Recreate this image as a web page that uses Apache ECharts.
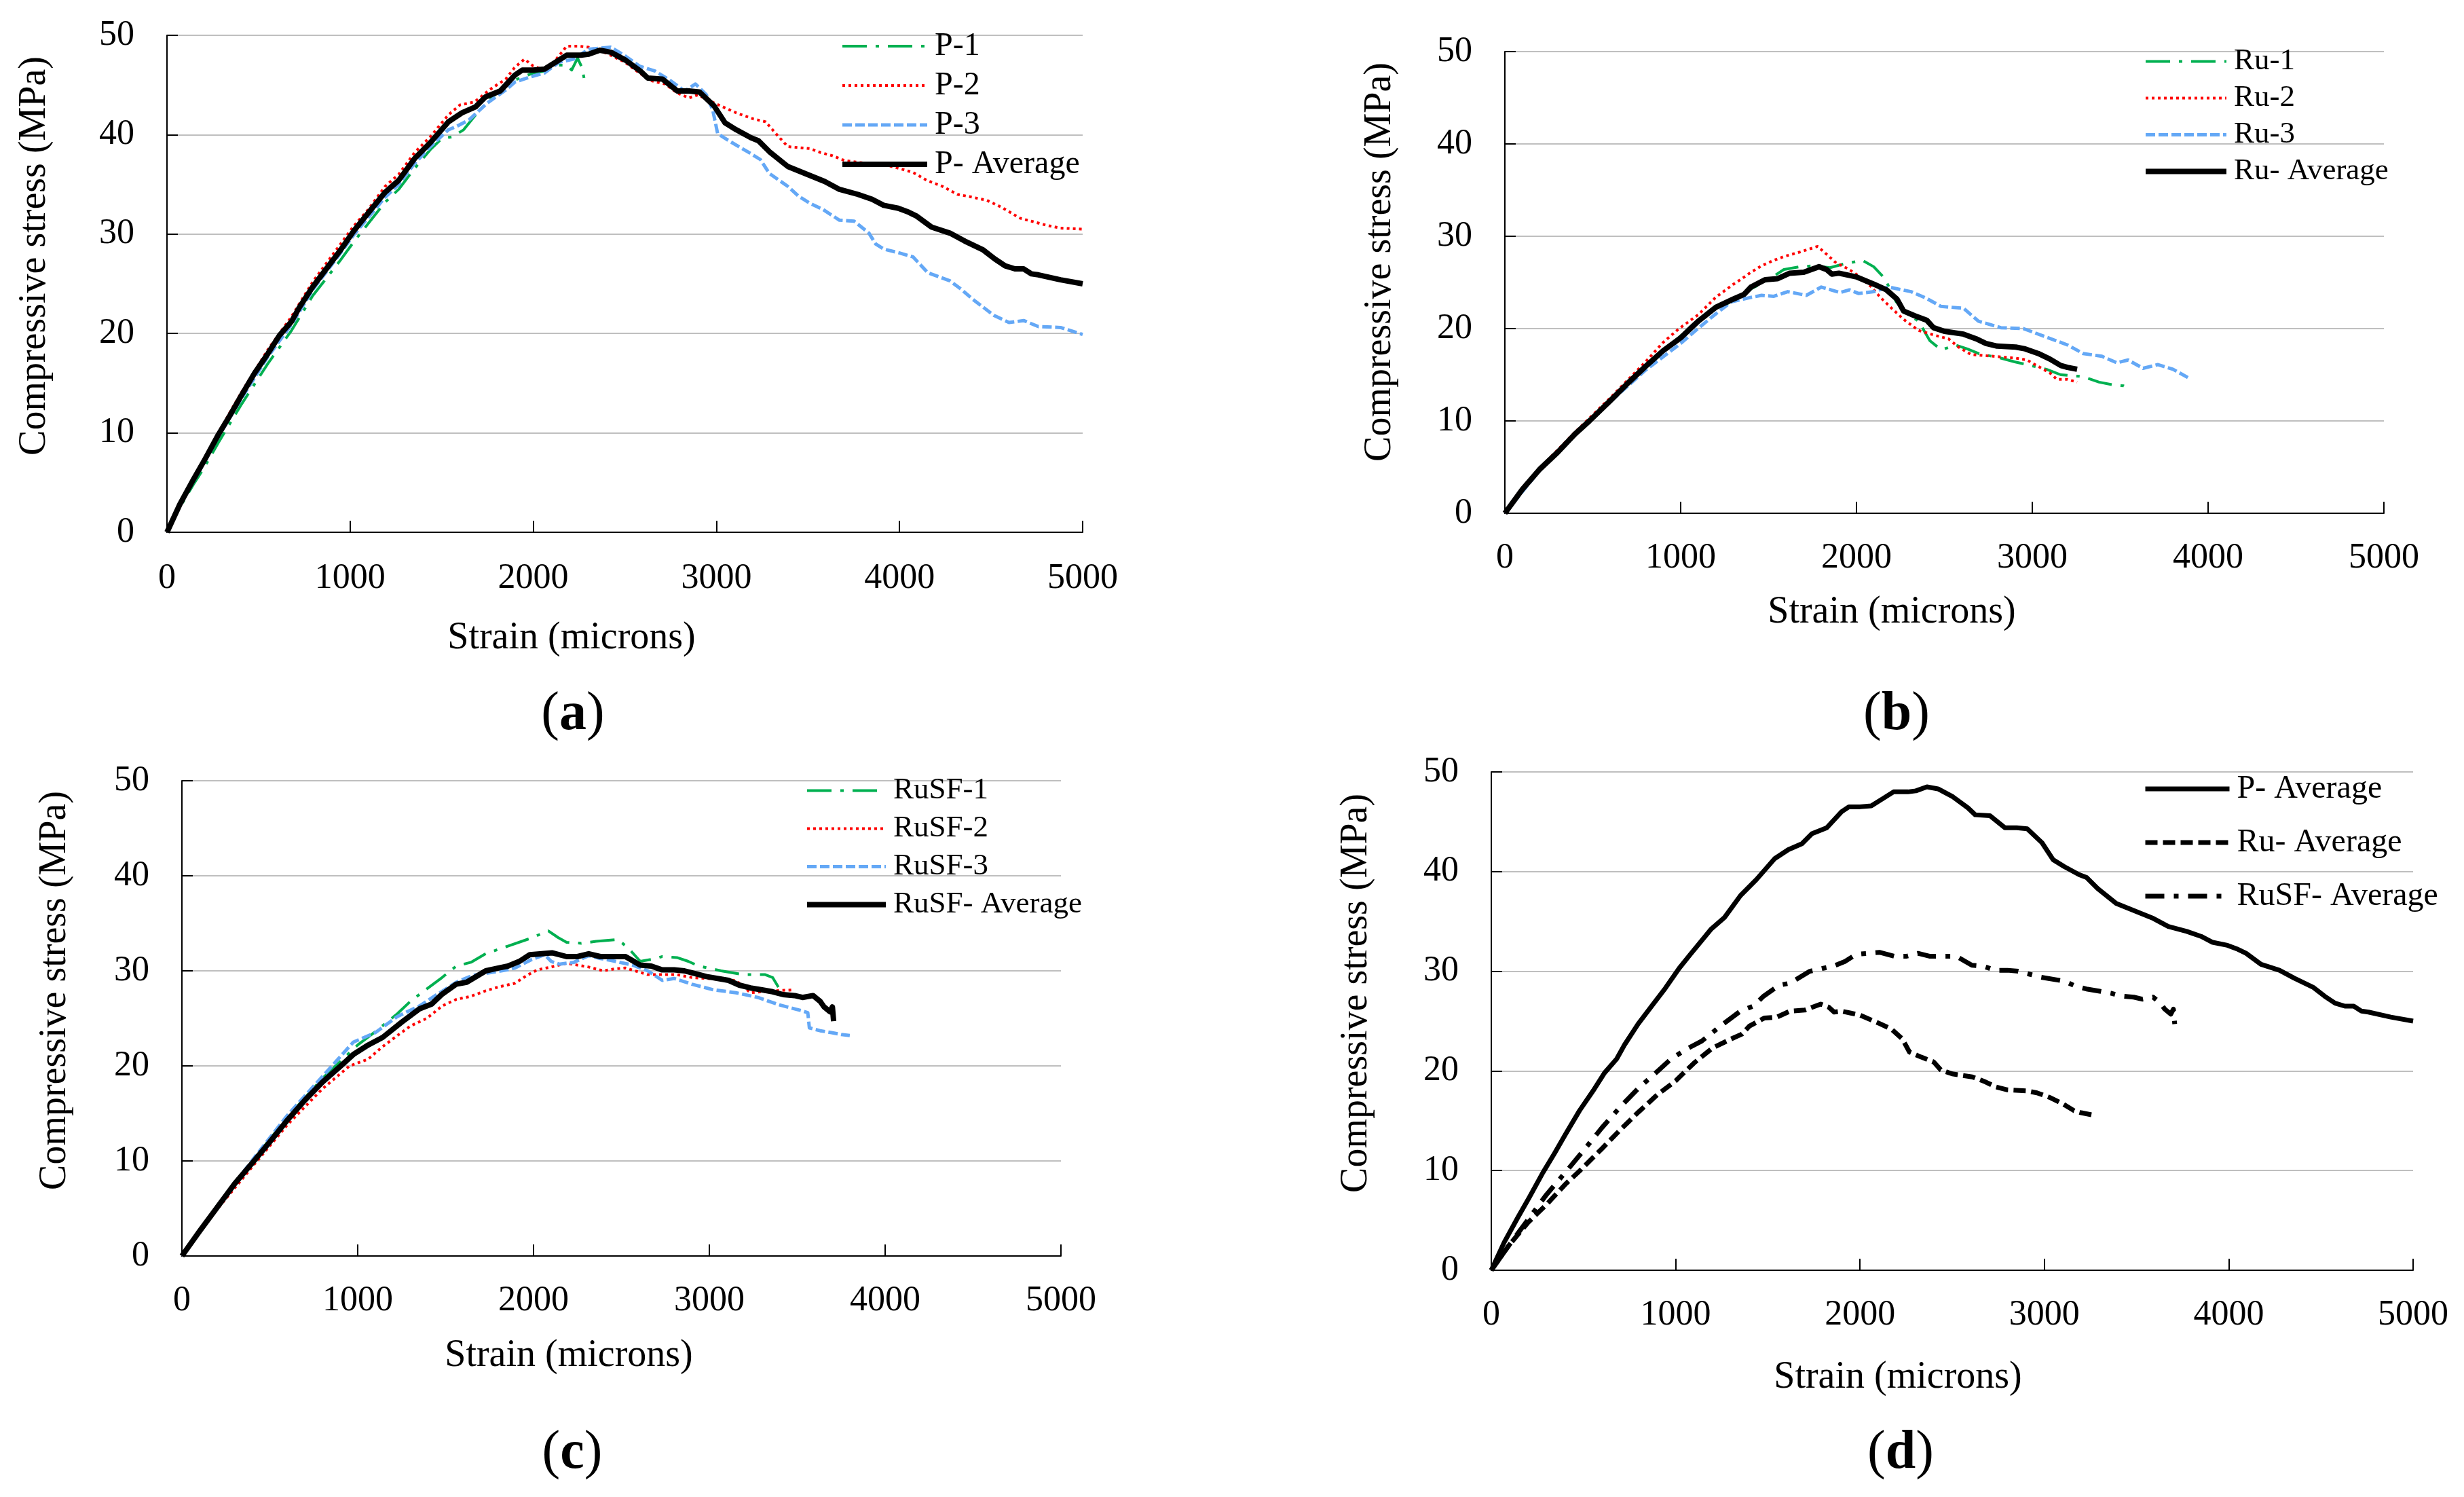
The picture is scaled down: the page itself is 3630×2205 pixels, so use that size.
<!DOCTYPE html>
<html>
<head>
<meta charset="utf-8">
<script src="https://cdn.jsdelivr.net/npm/echarts@6/dist/echarts.min.js"></script>
<style>
html,body{margin:0;padding:0;background:#fff;}
#chart{width:3630px;height:2205px;}
</style>
</head>
<body>
<div id="chart"></div>
<script>
// ---------- DATA (strain in microns, stress in MPa) ----------
const xTicks = [0, 1000, 2000, 3000, 4000, 5000];
const yTicks = [0, 10, 20, 30, 40, 50];

const p1 = [[0,0],[70,2.5],[144,4.8],[206,6.6],[280,9.0],[404,12.8],[552,17.0],[680,20.3],[796,23.8],[944,27.3],[1019,29.2],[1191,33.2],[1265,34.5],[1352,36.6],[1438,38.5],[1500,39.6],[1560,39.8],[1620,40.5],[1699,42.3],[1800,44.2],[1900,45.5],[2000,46.2],[2061,46.4],[2130,47.0],[2182,47.0],[2210,46.5],[2242,47.7],[2265,46.8],[2282,45.3]];
const p2 = [[0,0],[70,2.9],[144,5.5],[206,7.5],[280,10.0],[404,14.0],[552,18.4],[680,21.7],[796,25.2],[944,28.9],[1019,30.8],[1100,32.5],[1191,34.8],[1265,36.0],[1352,38.2],[1438,39.8],[1537,42.0],[1600,43.0],[1680,43.3],[1760,44.5],[1850,45.6],[1900,46.8],[1952,47.6],[2000,46.9],[2060,46.5],[2100,47],[2182,48.9],[2250,48.9],[2303,48.8],[2400,48.2],[2500,47.3],[2580,46.2],[2650,45.4],[2720,45.1],[2786,44.2],[2850,43.7],[2900,44],[2987,43.2],[3108,42.2],[3200,41.6],[3269,41.3],[3330,40.0],[3390,38.8],[3511,38.6],[3570,38.2],[3631,37.9],[3700,37.4],[3780,37.2],[3913,37.0],[4000,36.6],[4074,36.2],[4150,35.4],[4235,34.8],[4316,34.0],[4400,33.7],[4477,33.4],[4557,32.7],[4658,31.6],[4720,31.3],[4799,30.9],[4879,30.6],[5000,30.5]];
const p3 = [[0,0],[70,2.7],[144,5.1],[206,7.1],[280,9.6],[404,13.4],[552,17.7],[680,20.9],[796,24.4],[944,28.0],[1019,29.9],[1191,33.7],[1265,35.0],[1352,37.1],[1438,38.8],[1537,40.5],[1578,40.8],[1650,41.5],[1750,43.2],[1850,44.5],[1900,45.3],[2000,45.9],[2060,46.2],[2142,47.3],[2220,47.6],[2303,48.6],[2423,48.8],[2504,47.9],[2580,46.9],[2665,46.4],[2745,45.5],[2826,44.4],[2886,45.1],[2946,44.0],[2980,42.5],[3007,40.1],[3067,39.4],[3188,38.1],[3240,37.5],[3289,36.1],[3390,34.8],[3450,33.8],[3511,33.1],[3580,32.5],[3672,31.4],[3752,31.3],[3833,30.1],[3870,29.0],[3913,28.5],[4000,28.1],[4074,27.7],[4155,26.1],[4275,25.3],[4340,24.4],[4396,23.5],[4460,22.6],[4517,21.8],[4598,21.1],[4678,21.3],[4758,20.7],[4879,20.6],[5000,19.9]];
const pAvg = [[0,0],[70,2.8],[144,5.3],[206,7.3],[280,9.8],[342,11.7],[404,13.7],[478,16.0],[552,18.0],[614,19.8],[680,21.2],[722,22.6],[796,24.7],[870,26.5],[944,28.3],[1019,30.3],[1080,31.7],[1191,34.2],[1265,35.4],[1352,37.6],[1438,39.2],[1537,41.3],[1611,42.2],[1685,42.8],[1739,43.8],[1820,44.4],[1900,46.0],[1940,46.5],[2000,46.5],[2061,46.6],[2122,47.3],[2182,48.0],[2260,48.0],[2303,48.1],[2363,48.5],[2423,48.3],[2504,47.5],[2585,46.4],[2625,45.7],[2705,45.6],[2786,44.4],[2850,44.4],[2907,44.3],[2987,42.9],[3047,41.2],[3108,40.5],[3188,39.7],[3229,39.4],[3289,38.3],[3390,36.8],[3511,35.9],[3591,35.3],[3672,34.5],[3772,34.0],[3850,33.5],[3913,32.9],[3993,32.6],[4050,32.2],[4094,31.8],[4175,30.7],[4275,30.1],[4356,29.3],[4457,28.4],[4520,27.5],[4577,26.8],[4630,26.5],[4678,26.5],[4720,26.0],[4758,25.9],[4879,25.4],[5000,25.0]];

const ru1 = [[0,0],[200,4.8],[400,8.7],[600,12.4],[800,16.0],[1000,19.2],[1100,20.8],[1200,22.2],[1300,23.0],[1400,24.3],[1500,25.3],[1587,26.4],[1680,26.7],[1757,26.8],[1850,26.6],[1928,27.0],[2034,27.4],[2098,26.7],[2162,25.4],[2226,22.9],[2300,21.5],[2353,20.8],[2417,18.7],[2481,17.7],[2566,18.2],[2630,17.8],[2694,17.3],[2821,16.8],[2900,16.4],[2991,16.0],[3080,15.6],[3162,15.0],[3289,14.8],[3380,14.2],[3460,13.9],[3520,13.8],[3553,13.4]];
const ru2 = [[0,0],[200,4.9],[400,8.8],[600,12.5],[800,16.4],[900,18.5],[991,20],[1100,21.5],[1200,23.4],[1300,24.8],[1332,25.2],[1400,26.1],[1460,26.8],[1530,27.4],[1587,27.8],[1680,28.3],[1779,28.9],[1821,28.2],[1885,27.1],[1950,26.5],[2013,25.7],[2080,24.6],[2140,23.3],[2200,22.2],[2268,21.0],[2353,19.8],[2440,19.3],[2523,18.9],[2580,18.0],[2651,17.2],[2779,17.0],[2906,16.8],[2970,16.6],[3034,15.9],[3100,15.2],[3140,14.5],[3200,14.5],[3255,14.2]];
const ru3 = [[0,0],[200,4.7],[400,8.5],[600,12.1],[800,15.5],[1000,18.4],[1098,20],[1200,21.6],[1289,22.9],[1380,23.3],[1460,23.6],[1530,23.5],[1609,24.0],[1715,23.6],[1800,24.5],[1906,23.9],[1960,24.2],[2013,23.8],[2100,24.0],[2183,24.5],[2311,24.0],[2396,23.3],[2481,22.4],[2609,22.2],[2694,20.8],[2821,20.1],[2949,20.0],[3077,19.1],[3204,18.2],[3289,17.3],[3396,17.0],[3481,16.3],[3545,16.6],[3630,15.7],[3715,16.1],[3800,15.6],[3885,14.7]];
const ruAvg = [[0,0],[100,2.6],[200,4.8],[300,6.6],[400,8.6],[481,10],[600,12.2],[700,14.1],[800,15.9],[900,17.6],[1000,19],[1055,20],[1100,20.8],[1200,22.3],[1300,23.2],[1360,23.7],[1400,24.5],[1480,25.3],[1550,25.4],[1620,26.0],[1700,26.1],[1787,26.7],[1830,26.4],[1860,25.9],[1900,26.0],[1950,25.8],[2000,25.6],[2100,24.8],[2170,24.2],[2230,23.2],[2268,21.9],[2330,21.4],[2400,20.9],[2438,20.1],[2500,19.7],[2609,19.4],[2680,18.9],[2736,18.4],[2800,18.1],[2906,18.0],[2960,17.8],[3034,17.3],[3100,16.7],[3162,16.0],[3200,15.8],[3255,15.6]];

const rusf1 = [[0,0],[200,5.3],[410,10.2],[600,14.6],[800,18.7],[1000,22.2],[1100,23.6],[1226,25.5],[1300,26.8],[1393,28.1],[1480,29.3],[1561,30.5],[1644,30.9],[1728,31.8],[1854,32.6],[1979,33.4],[2084,34.2],[2140,33.5],[2188,33.0],[2272,32.9],[2356,33.1],[2481,33.3],[2544,32.3],[2607,31.0],[2670,31.2],[2732,31.5],[2816,31.4],[2880,31.0],[2941,30.5],[3067,30.0],[3192,29.6],[3318,29.6],[3360,29.3],[3402,28.0],[3423,27.5]];
const rusf2 = [[0,0],[200,4.9],[410,9.6],[600,13.8],[800,17.6],[954,20],[1059,20.7],[1140,22.0],[1226,23.2],[1300,24.2],[1393,25.0],[1480,26.3],[1561,27.0],[1640,27.3],[1728,27.9],[1800,28.3],[1895,28.7],[1960,29.5],[2021,30.1],[2100,30.4],[2188,30.8],[2250,30.6],[2314,30.4],[2397,30.0],[2460,30.2],[2523,30.3],[2649,29.6],[2816,29.6],[2900,29.3],[2983,29.2],[3151,29.0],[3234,27.7],[3300,27.8],[3360,27.9],[3485,28.0]];
const rusf3 = [[0,0],[200,5.2],[410,10.3],[600,14.8],[800,18.9],[975,22.5],[1100,23.5],[1226,25.2],[1351,26.3],[1450,27.5],[1561,28.8],[1650,29.5],[1750,29.8],[1850,30.1],[1895,30.3],[1990,31.2],[2063,31.7],[2100,31.0],[2146,30.7],[2230,30.9],[2314,31.6],[2380,31.3],[2439,31.1],[2565,30.6],[2650,30.0],[2732,29.0],[2800,29.2],[2900,28.6],[3025,28.0],[3151,27.7],[3276,27.2],[3402,26.4],[3527,25.8],[3560,25.6],[3569,24.0],[3630,23.7],[3695,23.5],[3750,23.3],[3799,23.2]];
const rusfAvg = [[0,0],[100,2.6],[200,5.1],[300,7.6],[410,10],[500,12],[600,14.3],[700,16.4],[800,18.3],[904,20],[975,21.2],[1060,22.2],[1142,23.0],[1250,24.6],[1351,26.0],[1420,26.5],[1477,27.5],[1561,28.6],[1620,28.8],[1728,30.0],[1800,30.3],[1854,30.5],[1920,31.0],[1979,31.7],[2105,31.9],[2188,31.5],[2250,31.5],[2314,31.8],[2380,31.5],[2439,31.5],[2523,31.5],[2570,31.0],[2607,30.6],[2670,30.5],[2732,30.1],[2800,30.1],[2858,30.0],[2920,29.7],[2983,29.4],[3109,29.0],[3170,28.5],[3234,28.2],[3300,28.0],[3360,27.8],[3420,27.5],[3485,27.4],[3530,27.2],[3590,27.4],[3630,26.8],[3653,26.2],[3686,25.7],[3700,26.2],[3707,24.7]];

const namesA = ['P-1', 'P-2', 'P-3', 'P- Average'];
const namesB = ['Ru-1', 'Ru-2', 'Ru-3', 'Ru- Average'];
const namesC = ['RuSF-1', 'RuSF-2', 'RuSF-3', 'RuSF- Average'];
const namesD = ['P- Average', 'Ru- Average', 'RuSF- Average'];
const xTitle = 'Strain (microns)';
const yTitle = 'Compressive stress (MPa)';
const panelLetters = ['a', 'b', 'c', 'd'];

// ---------- STYLE ----------
const FONT = "'Liberation Serif', 'Times New Roman', 'DejaVu Serif', serif";
const ZW = '\u200b'; // keeps panel (d) legend names distinct from panels (a)-(c)
const grids = [
  {left: 246, top: 52, width: 1349, height: 732},
  {left: 2217, top: 76, width: 1295, height: 680},
  {left: 268, top: 1150, width: 1295, height: 700},
  {left: 2197, top: 1137, width: 1358, height: 734}
];
const xLabelMargin = [42, 40, 40, 40];
const legendPos = [
  {left: 1237, top: 44, itemWidth: 125, itemGap: 10, fontSize: 48},
  {left: 3157, top: 68, itemWidth: 119, itemGap: 9, fontSize: 45},
  {left: 1185, top: 1142, itemWidth: 116, itemGap: 11, fontSize: 45},
  {left: 3157, top: 1138, itemWidth: 124, itemGap: 31, fontSize: 48}
];
const xTitlePos = [[842, 940], [2787, 902], [838, 1997], [2796, 2029]];
const yTitlePos = [[51, 377], [2033, 386], [81, 1459], [1998, 1463]];
const labelPos = [[844, 1053], [2794, 1053], [843, 2141], [2800, 2141]];

const GREEN = {color: '#00B050', width: 4, type: [36, 13, 5, 13]};
const RED = {color: '#FF0000', width: 4, type: [4, 5]};
const BLUE = {color: '#64A8F6', width: 5, type: [14, 5]};
const BLACK = {color: '#000000', width: 8, type: 'solid'};
const D_SOLID = {color: '#000000', width: 7, type: 'solid'};
const D_DASH = {color: '#000000', width: 7, type: [18, 8]};
const D_DASHDOT = {color: '#000000', width: 7, type: [28, 14, 7, 14]};

function mkSeries(name, data, ls, idx) {
  return {
    name: name, type: 'line', data: data, xAxisIndex: idx, yAxisIndex: idx,
    showSymbol: false, symbol: 'none', smooth: false, silent: true,
    color: ls.color,
    lineStyle: {color: ls.color, width: ls.width, type: ls.type, cap: 'butt', join: 'round'},
    z: 2
  };
}

const series = [
  mkSeries(namesA[0], p1, GREEN, 0),
  mkSeries(namesA[1], p2, RED, 0),
  mkSeries(namesA[2], p3, BLUE, 0),
  mkSeries(namesA[3], pAvg, BLACK, 0),
  mkSeries(namesB[0], ru1, GREEN, 1),
  mkSeries(namesB[1], ru2, RED, 1),
  mkSeries(namesB[2], ru3, BLUE, 1),
  mkSeries(namesB[3], ruAvg, BLACK, 1),
  mkSeries(namesC[0], rusf1, GREEN, 2),
  mkSeries(namesC[1], rusf2, RED, 2),
  mkSeries(namesC[2], rusf3, BLUE, 2),
  mkSeries(namesC[3], rusfAvg, BLACK, 2),
  mkSeries(namesD[0] + ZW, pAvg, D_SOLID, 3),
  mkSeries(namesD[1] + ZW, ruAvg, D_DASH, 3),
  mkSeries(namesD[2] + ZW, rusfAvg, D_DASHDOT, 3)
];

const legendNames = [namesA, namesB, namesC, namesD.map(n => n + ZW)];

const xAxes = grids.map((g, i) => ({
  type: 'value', gridIndex: i, min: xTicks[0], max: xTicks[xTicks.length - 1],
  interval: xTicks[1] - xTicks[0],
  axisLine: {show: true, onZero: false, lineStyle: {color: '#000', width: 2}},
  axisTick: {show: true, inside: true, length: 17, lineStyle: {color: '#000', width: 2}},
  axisLabel: {show: true, margin: xLabelMargin[i], fontFamily: FONT, fontSize: 52, color: '#000',
    formatter: v => String(v)},
  splitLine: {show: false}
}));
const yAxes = grids.map((g, i) => ({
  type: 'value', gridIndex: i, min: yTicks[0], max: yTicks[yTicks.length - 1],
  interval: yTicks[1] - yTicks[0],
  axisLine: {show: true, onZero: false, lineStyle: {color: '#000', width: 2}},
  axisTick: {show: true, inside: true, length: 16, lineStyle: {color: '#000', width: 2}},
  axisLabel: {show: true, margin: 48, fontFamily: FONT, fontSize: 52, color: '#000',
    formatter: v => String(v)},
  splitLine: {show: true, lineStyle: {color: '#BFBFBF', width: 2}}
}));

const legends = legendPos.map((lp, i) => ({
  show: true, orient: 'vertical', left: lp.left, top: lp.top, padding: 0,
  itemWidth: lp.itemWidth, itemHeight: 14, itemGap: lp.itemGap,
  selectedMode: false, data: legendNames[i],
  itemStyle: {opacity: 0, borderWidth: 0},
  lineStyle: {width: 'inherit', type: 'inherit', color: 'inherit', cap: 'butt', opacity: 1},
  textStyle: {fontFamily: FONT, fontSize: lp.fontSize, lineHeight: lp.fontSize, color: '#000', padding: [0, 0, 0, 6]}
}));

const graphics = [];
for (let i = 0; i < 4; i++) {
  graphics.push({
    type: 'text', x: xTitlePos[i][0], y: xTitlePos[i][1],
    style: {text: xTitle, fontFamily: FONT, fontSize: 56, fill: '#000', align: 'center', verticalAlign: 'middle'}
  });
  graphics.push({
    type: 'text', x: yTitlePos[i][0], y: yTitlePos[i][1], rotation: Math.PI / 2,
    style: {text: yTitle, fontFamily: FONT, fontSize: 56, fill: '#000', align: 'center', verticalAlign: 'middle'}
  });
  graphics.push({
    type: 'text', x: labelPos[i][0], y: labelPos[i][1],
    style: {
      text: '({b|' + panelLetters[i] + '})', fontFamily: FONT, fontSize: 80, fill: '#000',
      align: 'center', verticalAlign: 'middle',
      rich: {b: {fontFamily: FONT, fontSize: 80, fontWeight: 'bold', fill: '#000'}}
    }
  });
}

const chart = echarts.init(document.getElementById('chart'), null, {renderer: 'canvas'});
chart.setOption({
  animation: false,
  backgroundColor: '#ffffff',
  grid: grids.map(g => Object.assign({containLabel: false}, g)),
  xAxis: xAxes,
  yAxis: yAxes,
  legend: legends,
  series: series,
  graphic: graphics
});
</script>
</body>
</html>
